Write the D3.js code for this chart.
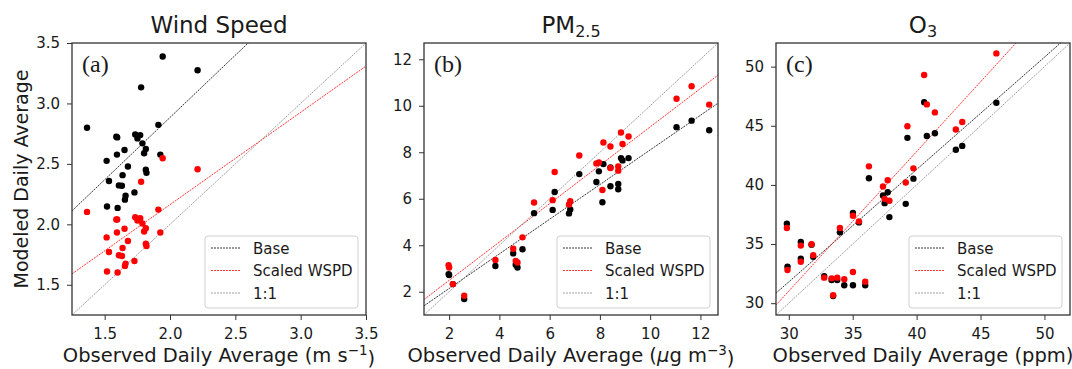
<!DOCTYPE html>
<html>
<head>
<meta charset="utf-8">
<script src="https://cdn.jsdelivr.net/npm/d3@7"></script>
<style>
  body { margin: 0; background: #fff; }
  text { font-family: "DejaVu Sans", sans-serif; fill: #1a1a1a; }
</style>
</head>
<body>
<div id="chart"></div>
<script>
// ---- data ----
// (a) wind speed, m/s
const windObs    = [1.365, 1.944, 2.211, 1.779, 1.911, 1.589, 1.596, 1.734, 1.772, 1.751, 1.789, 1.652, 1.815, 1.802, 1.594, 1.926, 1.515, 1.678, 1.815, 1.820, 1.637, 1.533, 1.609, 1.632, 1.728, 1.660, 1.655, 1.518, 1.599];
const windBase   = [2.799, 3.388, 3.275, 3.133, 2.823, 2.725, 2.719, 2.744, 2.738, 2.711, 2.670, 2.615, 2.623, 2.588, 2.577, 2.577, 2.525, 2.478, 2.451, 2.426, 2.407, 2.358, 2.322, 2.319, 2.264, 2.237, 2.204, 2.147, 2.136];
const windScaled = [2.103, 2.547, 2.456, 2.352, 2.122, 2.040, 2.040, 2.059, 2.051, 2.032, 2.007, 1.963, 1.968, 1.941, 1.933, 1.933, 1.892, 1.862, 1.840, 1.821, 1.804, 1.771, 1.744, 1.738, 1.697, 1.675, 1.656, 1.610, 1.601];

// (b) PM2.5, ug/m3
const pmObs    = [1.98, 2.00, 2.15, 2.60, 3.84, 4.55, 4.65, 4.72, 4.92, 5.38, 6.12, 6.20, 6.77, 6.82, 7.18, 7.86, 7.96, 8.10, 8.14, 8.42, 8.42, 8.73, 8.73, 8.84, 8.90, 9.14, 11.05, 11.65, 12.35];
const pmBase   = [2.76, 2.72, 2.33, 1.69, 3.11, 3.65, 3.16, 3.04, 3.83, 5.38, 5.52, 6.29, 5.37, 5.54, 7.06, 6.72, 7.18, 5.85, 7.49, 6.54, 7.35, 6.64, 6.41, 7.75, 7.65, 7.75, 9.08, 9.36, 8.95];
const pmScaled = [3.14, 3.04, 2.33, 1.83, 3.37, 3.85, 3.33, 3.26, 4.34, 5.84, 5.94, 7.15, 5.75, 5.89, 7.86, 7.52, 7.56, 6.38, 8.42, 8.25, 7.32, 7.39, 7.21, 8.85, 8.36, 8.68, 10.30, 10.84, 10.05];

// (c) O3, ppm
const o3Obs    = [29.85, 29.90, 30.94, 30.94, 31.78, 31.91, 32.77, 33.35, 33.47, 33.79, 34.00, 34.34, 35.02, 35.02, 35.49, 35.98, 36.27, 37.37, 37.50, 37.74, 37.87, 39.15, 39.28, 39.75, 40.59, 40.80, 41.43, 43.07, 43.57, 46.24];
const o3Base   = [36.72, 33.08, 35.18, 33.76, 34.95, 33.92, 32.29, 31.96, 30.61, 31.96, 35.99, 31.51, 37.62, 31.51, 36.83, 31.51, 40.56, 39.10, 38.46, 39.38, 37.28, 38.40, 43.98, 40.53, 47.00, 44.14, 44.37, 42.97, 43.30, 46.95];
const o3Scaled = [36.36, 32.80, 34.87, 33.50, 34.98, 34.06, 32.16, 32.10, 30.67, 32.16, 36.36, 32.02, 37.39, 32.63, 36.92, 31.82, 41.57, 39.86, 38.82, 40.39, 38.66, 40.20, 44.96, 41.40, 49.30, 46.81, 46.13, 44.68, 45.32, 51.12];

// fitted lines as [slope, intercept]
const windBaseFit = [1.03, 0.824];
const windScaledFit = [0.764, 0.635];
const pmBaseFit = [0.745, 0.65];
const pmScaledFit = [0.825, 0.84];
const o3BaseFit = [0.95, 3.3];
const o3ScaledFit = [1.18, -4.38];

// axis limits and ticks
const windDomain = [1.25, 3.5];
const pmDomain = [1.0, 12.7];
const o3Domain = [29, 52];
const windTicks = [1.5, 2.0, 2.5, 3.0, 3.5];
const pmTicks = [2, 4, 6, 8, 10, 12];
const o3Ticks = [30, 35, 40, 45, 50];

const legendLabels = ["Base", "Scaled WSPD", "1:1"];
const legendColors = ["#000", "#ff0000", "#888"];

// ---- layout ----
const W = 1072, H = 369;
const plotW = 294, plotH = 272, plotTop = 43;

const svg = d3.select("#chart").append("svg")
	.attr("width", W)
	.attr("height", H);

function addTitle(g, parts, cx){
	// parts: [main, subscript]
	const t = g.append("text")
		.attr("x", cx)
		.attr("y", 33)
		.attr("text-anchor", "middle")
		.style("font-size", "23px");
	t.append("tspan").text(parts[0]);
	if(parts[1]){
		t.append("tspan")
			.attr("dy", "0.28em")
			.style("font-size", "16px")
			.text(parts[1]);
	}
}

function addXLabel(g, cx, unitBuilder){
	const t = g.append("text")
		.attr("x", cx)
		.attr("y", 362)
		.attr("text-anchor", "middle")
		.style("font-size", "19.5px");
	unitBuilder(t);
}

function buildPanel(cfg){
	const left = cfg.left;
	const g = svg.append("g").attr("transform", `translate(${left},${plotTop})`);

	const x = d3.scaleLinear().domain(cfg.domain).range([0, plotW]);
	const y = d3.scaleLinear().domain(cfg.domain).range([plotH, 0]);

	const clipId = "clip-" + cfg.id;
	g.append("clipPath").attr("id", clipId)
		.append("rect").attr("width", plotW).attr("height", plotH);

	// axes
	const fmt = cfg.fmt;
	const xAxis = g.append("g")
		.attr("transform", `translate(0,${plotH})`)
		.call(d3.axisBottom(x).tickValues(cfg.ticks).tickSize(5).tickPadding(8).tickFormat(fmt));
	const yAxis = g.append("g")
		.call(d3.axisLeft(y).tickValues(cfg.ticks).tickSize(5).tickPadding(7).tickFormat(fmt));
	[xAxis, yAxis].forEach(a => {
		a.select(".domain").remove();
		a.selectAll(".tick line").attr("stroke", "#333").attr("stroke-width", 1);
		a.selectAll(".tick text")
			.style("font-size", "15px")
			.style("font-family", '"DejaVu Sans", sans-serif')
			.attr("fill", "#1a1a1a");
	});

	// regression + 1:1 lines
	const lines = g.append("g").attr("clip-path", `url(#${clipId})`);
	const fits = [cfg.baseFit, cfg.scaledFit, [1, 0]];
	const lineGen = d3.line().x(d => x(d[0])).y(d => y(d[1]));
	fits.forEach((f, i) => {
		const pts = cfg.domain.map(v => [v, f[0] * v + f[1]]);
		lines.append("path")
			.attr("d", lineGen(pts))
			.attr("fill", "none")
			.attr("stroke", legendColors[i])
			.attr("stroke-width", 0.8)
			.attr("stroke-dasharray", "2,1");
	});

	// points: black (base) first, red (scaled) on top
	const pts = g.append("g").attr("clip-path", `url(#${clipId})`);
	pts.selectAll("circle.base")
		.data(cfg.obs)
		.enter()
		.append("circle")
		.attr("class", "base")
		.attr("cx", d => x(d))
		.attr("cy", (d, i) => y(cfg.base[i]))
		.attr("r", 3.2)
		.attr("fill", "#000");
	pts.selectAll("circle.scaled")
		.data(cfg.obs)
		.enter()
		.append("circle")
		.attr("class", "scaled")
		.attr("cx", d => x(d))
		.attr("cy", (d, i) => y(cfg.scaled[i]))
		.attr("r", 3.2)
		.attr("fill", "#ff0000");

	// frame
	g.append("rect")
		.attr("width", plotW)
		.attr("height", plotH)
		.attr("fill", "none")
		.attr("stroke", "#333")
		.attr("stroke-width", 1.3);

	// panel letter
	g.append("text")
		.attr("x", 10)
		.attr("y", 29)
		.style("font-family", '"Liberation Serif", "DejaVu Serif", serif')
		.style("font-size", "24px")
		.text(cfg.letter);

	// legend
	const lgW = 153, lgH = 72;
	const lg = g.append("g").attr("transform", `translate(${plotW - 8 - lgW},${plotH - 7 - lgH})`);
	lg.append("rect")
		.attr("width", lgW)
		.attr("height", lgH)
		.attr("rx", 3)
		.attr("fill", "#fff")
		.attr("fill-opacity", 0.8)
		.attr("stroke", "#d0d0d0");
	legendLabels.forEach((lab, i) => {
		const cy = 12 + i * 22.5;
		lg.append("line")
			.attr("x1", 6).attr("x2", 36)
			.attr("y1", cy).attr("y2", cy)
			.attr("stroke", legendColors[i])
			.attr("stroke-width", 0.8)
			.attr("stroke-dasharray", "2,1");
		lg.append("text")
			.attr("x", 48)
			.attr("y", cy + 5.5)
			.style("font-size", "15px")
			.text(lab);
	});

	const cx = left + plotW / 2;
	addTitle(svg, cfg.title, cx);
	addXLabel(svg, cx, cfg.xlabel);
}

buildPanel({
	id: "a", left: 72, letter: "(a)", title: ["Wind Speed"],
	domain: windDomain, ticks: windTicks, fmt: d3.format(".1f"),
	obs: windObs, base: windBase, scaled: windScaled,
	baseFit: windBaseFit, scaledFit: windScaledFit,
	xlabel: t => {
		t.append("tspan").text("Observed Daily Average (m s");
		t.append("tspan").attr("dy", "-0.5em").style("font-size", "13.5px").text("\u22121");
		t.append("tspan").attr("dy", "0.5em").text(")");
	}
});

buildPanel({
	id: "b", left: 424, letter: "(b)", title: ["PM", "2.5"],
	domain: pmDomain, ticks: pmTicks, fmt: d3.format("d"),
	obs: pmObs, base: pmBase, scaled: pmScaled,
	baseFit: pmBaseFit, scaledFit: pmScaledFit,
	xlabel: t => {
		t.append("tspan").text("Observed Daily Average (");
		t.append("tspan").style("font-style", "italic").text("\u03bc");
		t.append("tspan").text("g m");
		t.append("tspan").attr("dy", "-0.5em").style("font-size", "13.5px").text("\u22123");
		t.append("tspan").attr("dy", "0.5em").text(")");
	}
});

buildPanel({
	id: "c", left: 776, letter: "(c)", title: ["O", "3"],
	domain: o3Domain, ticks: o3Ticks, fmt: d3.format("d"),
	obs: o3Obs, base: o3Base, scaled: o3Scaled,
	baseFit: o3BaseFit, scaledFit: o3ScaledFit,
	xlabel: t => {
		t.append("tspan").text("Observed Daily Average (ppm)");
	}
});

// shared y label
svg.append("text")
	.attr("transform", `translate(28,${plotTop + plotH / 2}) rotate(-90)`)
	.attr("text-anchor", "middle")
	.style("font-size", "19px")
	.text("Modeled Daily Average");
</script>
</body>
</html>
